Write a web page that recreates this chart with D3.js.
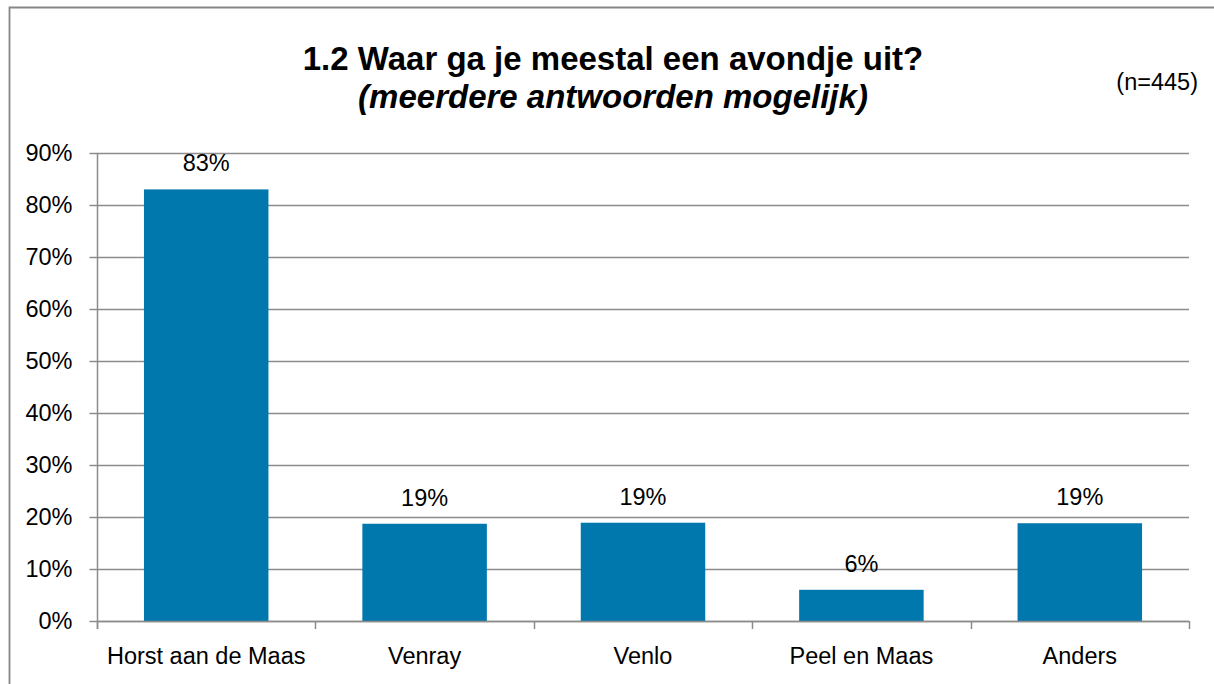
<!DOCTYPE html>
<html>
<head>
<meta charset="utf-8">
<script src="https://cdn.jsdelivr.net/npm/d3@7"></script>
<style>
  body { margin: 0; background: #fff; overflow: hidden; }
  svg { display: block; }
  svg text { font-family: "Liberation Sans", Arial, sans-serif; fill: #000; }
</style>
</head>
<body>
<svg id="chart"></svg>
<script>
// Data
const categories = ["Horst aan de Maas", "Venray", "Venlo", "Peel en Maas", "Anders"];
const values = [0.83, 0.187, 0.189, 0.06, 0.188];
const yTicks = [0, 0.1, 0.2, 0.3, 0.4, 0.5, 0.6, 0.7, 0.8, 0.9];

const width = 1214, height = 684;
const margin = { top: 153, right: 25, bottom: 63, left: 97 };
const fontSmall = "23.5px";

const svg = d3.select("#chart")
              .attr("width", width)
              .attr("height", height);

// outer frame: only left and top edges are inside the picture
svg.append("path")
   .attr("d", `M9.5,${height}V7.5H${width}`)
   .attr("fill", "none")
   .attr("stroke", "#868686")
   .attr("stroke-width", 1.8);

// Scales
const xEdge = d3.scaleBand()
                .domain(categories)
                .range([margin.left, width - margin.right])
                .padding(0);

const xScale = d3.scaleBand()
                 .domain(categories)
                 .range([margin.left, width - margin.right])
                 .paddingInner(0.43)
                 .paddingOuter(0.215);

const yScale = d3.scaleLinear()
                 .domain([0, 0.9])
                 .range([height - margin.bottom, margin.top]);

// Gridlines
svg.append("g")
   .selectAll("line")
   .data(yTicks)
   .join("line")
   .attr("x1", margin.left)
   .attr("x2", width - margin.right)
   .attr("y1", d => Math.round(yScale(d)) + 0.5)
   .attr("y2", d => Math.round(yScale(d)) + 0.5)
   .attr("stroke", "#8c8c8c")
   .attr("stroke-width", 1.3);

// Bars
svg.append("g")
   .selectAll("rect")
   .data(values)
   .join("rect")
   .attr("x", (d, i) => xScale(categories[i]))
   .attr("y", d => yScale(d))
   .attr("width", xScale.bandwidth())
   .attr("height", d => yScale(0) - yScale(d))
   .attr("fill", "#0077ad");

// Data labels
svg.append("g")
   .selectAll("text")
   .data(values)
   .join("text")
   .attr("x", (d, i) => xScale(categories[i]) + xScale.bandwidth() / 2)
   .attr("y", d => yScale(d) - 18)
   .attr("text-anchor", "middle")
   .style("font-size", fontSmall)
   .text(d => d3.format(".0%")(d));

// Y axis
const yAxis = svg.append("g")
   .attr("transform", `translate(${margin.left + 0.5}, 0)`)
   .call(d3.axisLeft(yScale)
           .tickValues(yTicks)
           .tickFormat(d3.format(".0%"))
           .tickSize(8)
           .tickPadding(17));
yAxis.select(".domain")
     .attr("stroke", "#8c8c8c")
     .attr("stroke-width", 1.5)
     .attr("d", `M0,${yScale(0.9)}V${yScale(0) + 8}`);
yAxis.selectAll(".tick line").attr("stroke", "#8c8c8c").attr("stroke-width", 1.5);
yAxis.selectAll(".tick text")
     .style("font-size", fontSmall)
     .style("font-family", "Liberation Sans, Arial, sans-serif")
     .attr("fill", "#000");

// X axis line and tick marks at band edges
const x0 = yScale(0);
svg.append("line")
   .attr("x1", margin.left)
   .attr("x2", width - margin.right)
   .attr("y1", x0 + 0.5)
   .attr("y2", x0 + 0.5)
   .attr("stroke", "#8c8c8c")
   .attr("stroke-width", 1.5);

const edges = categories.map(c => xEdge(c)).concat([width - margin.right]);
svg.append("g")
   .selectAll("line")
   .data(edges)
   .join("line")
   .attr("x1", d => Math.round(d) + 0.5)
   .attr("x2", d => Math.round(d) + 0.5)
   .attr("y1", x0)
   .attr("y2", x0 + 8)
   .attr("stroke", "#8c8c8c")
   .attr("stroke-width", 1.5);

// Category labels
svg.append("g")
   .selectAll("text")
   .data(categories)
   .join("text")
   .attr("x", d => xEdge(d) + xEdge.bandwidth() / 2)
   .attr("y", 664)
   .attr("text-anchor", "middle")
   .style("font-size", fontSmall)
   .text(d => d);

// Title
svg.append("text")
   .attr("x", 613)
   .attr("y", 70)
   .attr("text-anchor", "middle")
   .style("font-size", "33px")
   .style("font-weight", "bold")
   .text("1.2 Waar ga je meestal een avondje uit?");

svg.append("text")
   .attr("x", 613)
   .attr("y", 108)
   .attr("text-anchor", "middle")
   .style("font-size", "33px")
   .style("font-weight", "bold")
   .style("font-style", "italic")
   .text("(meerdere antwoorden mogelijk)");

svg.append("text")
   .attr("x", 1198)
   .attr("y", 90)
   .attr("text-anchor", "end")
   .style("font-size", fontSmall)
   .text("(n=445)");
</script>
</body>
</html>
